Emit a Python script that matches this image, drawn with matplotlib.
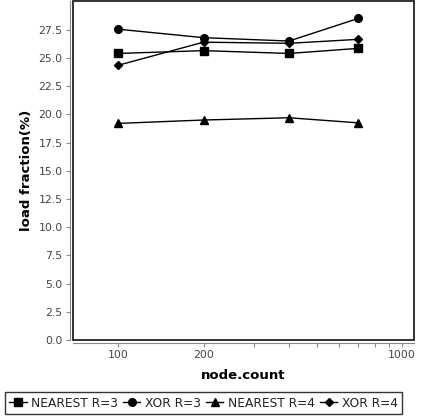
import matplotlib
matplotlib.use("Agg")
import matplotlib.pyplot as plt
from matplotlib.patches import Rectangle
from matplotlib.ticker import FixedLocator, FixedFormatter, NullFormatter

# data
node_count = [100, 200, 400, 700]
nearest_r3 = [25.4, 25.65, 25.4, 25.85]
xor_r3 = [27.55, 26.8, 26.5, 28.5]
nearest_r4 = [19.2, 19.5, 19.7, 19.25]
xor_r4 = [24.35, 26.4, 26.3, 26.65]

major_ticks = [100, 200, 1000]
minor_ticks = [300, 400, 500, 600, 700, 800, 900]
y_ticks = [0.0, 2.5, 5.0, 7.5, 10.0, 12.5, 15.0, 17.5, 20.0, 22.5, 25.0, 27.5]

plt.rcParams["font.family"] = "DejaVu Sans"

fig = plt.figure(figsize=(4.22, 4.19), dpi=100)
ax = fig.add_axes([73 / 422, 79 / 419, 341 / 422, 339 / 419])

series = [
    ("NEAREST R=3", nearest_r3, "s", 5.3),
    ("XOR R=3", xor_r3, "o", 5.5),
    ("NEAREST R=4", nearest_r4, "^", 5.8),
    ("XOR R=4", xor_r4, "D", 4.0),
]
for label, vals, marker, ms in series:
    ax.plot(node_count, vals, color="black", lw=1.0, marker=marker,
            markersize=ms, label=label)

ax.set_xscale("log")
ax.set_xlim(69.4, 1102)
ax.set_ylim(0, 30.05)

ax.xaxis.set_major_locator(FixedLocator(major_ticks))
ax.xaxis.set_major_formatter(FixedFormatter([str(t) for t in major_ticks]))
ax.xaxis.set_minor_locator(FixedLocator(minor_ticks))
ax.xaxis.set_minor_formatter(NullFormatter())
ax.set_yticks(y_ticks)
ax.set_yticklabels([f"{t:.1f}" for t in y_ticks])

gray = "#888888"
ax.tick_params(axis="both", which="both", length=3, width=0.8, color=gray,
               labelcolor="#444444", labelsize=7.8, pad=2)

# offset gray axis lines, black plot frame
for side in ["left", "bottom"]:
    ax.spines[side].set_position(("outward", 2.5))
    ax.spines[side].set_color(gray)
    ax.spines[side].set_linewidth(0.8)
for side in ["top", "right"]:
    ax.spines[side].set_visible(False)
ax.add_patch(Rectangle((0, 0), 1, 1, transform=ax.transAxes, fill=False,
                       edgecolor="#222222", lw=1.3, clip_on=False, zorder=5))

ax.set_xlabel("node.count", fontsize=9.5, fontweight="bold", labelpad=6)
ax.set_ylabel("load fraction(%)", fontsize=9.5, fontweight="bold", labelpad=4)

leg = fig.legend(loc="lower center", bbox_to_anchor=(203.5 / 422, 5 / 419),
                 ncol=4, fontsize=8.8, frameon=True, fancybox=False,
                 edgecolor="black", handlelength=1.4, handletextpad=0.35,
                 columnspacing=0.45, borderpad=0.35, borderaxespad=0)
leg.get_frame().set_linewidth(1.0)
for text in leg.get_texts():
    text.set_color("#222222")

fig.savefig("out.png", dpi=100)
